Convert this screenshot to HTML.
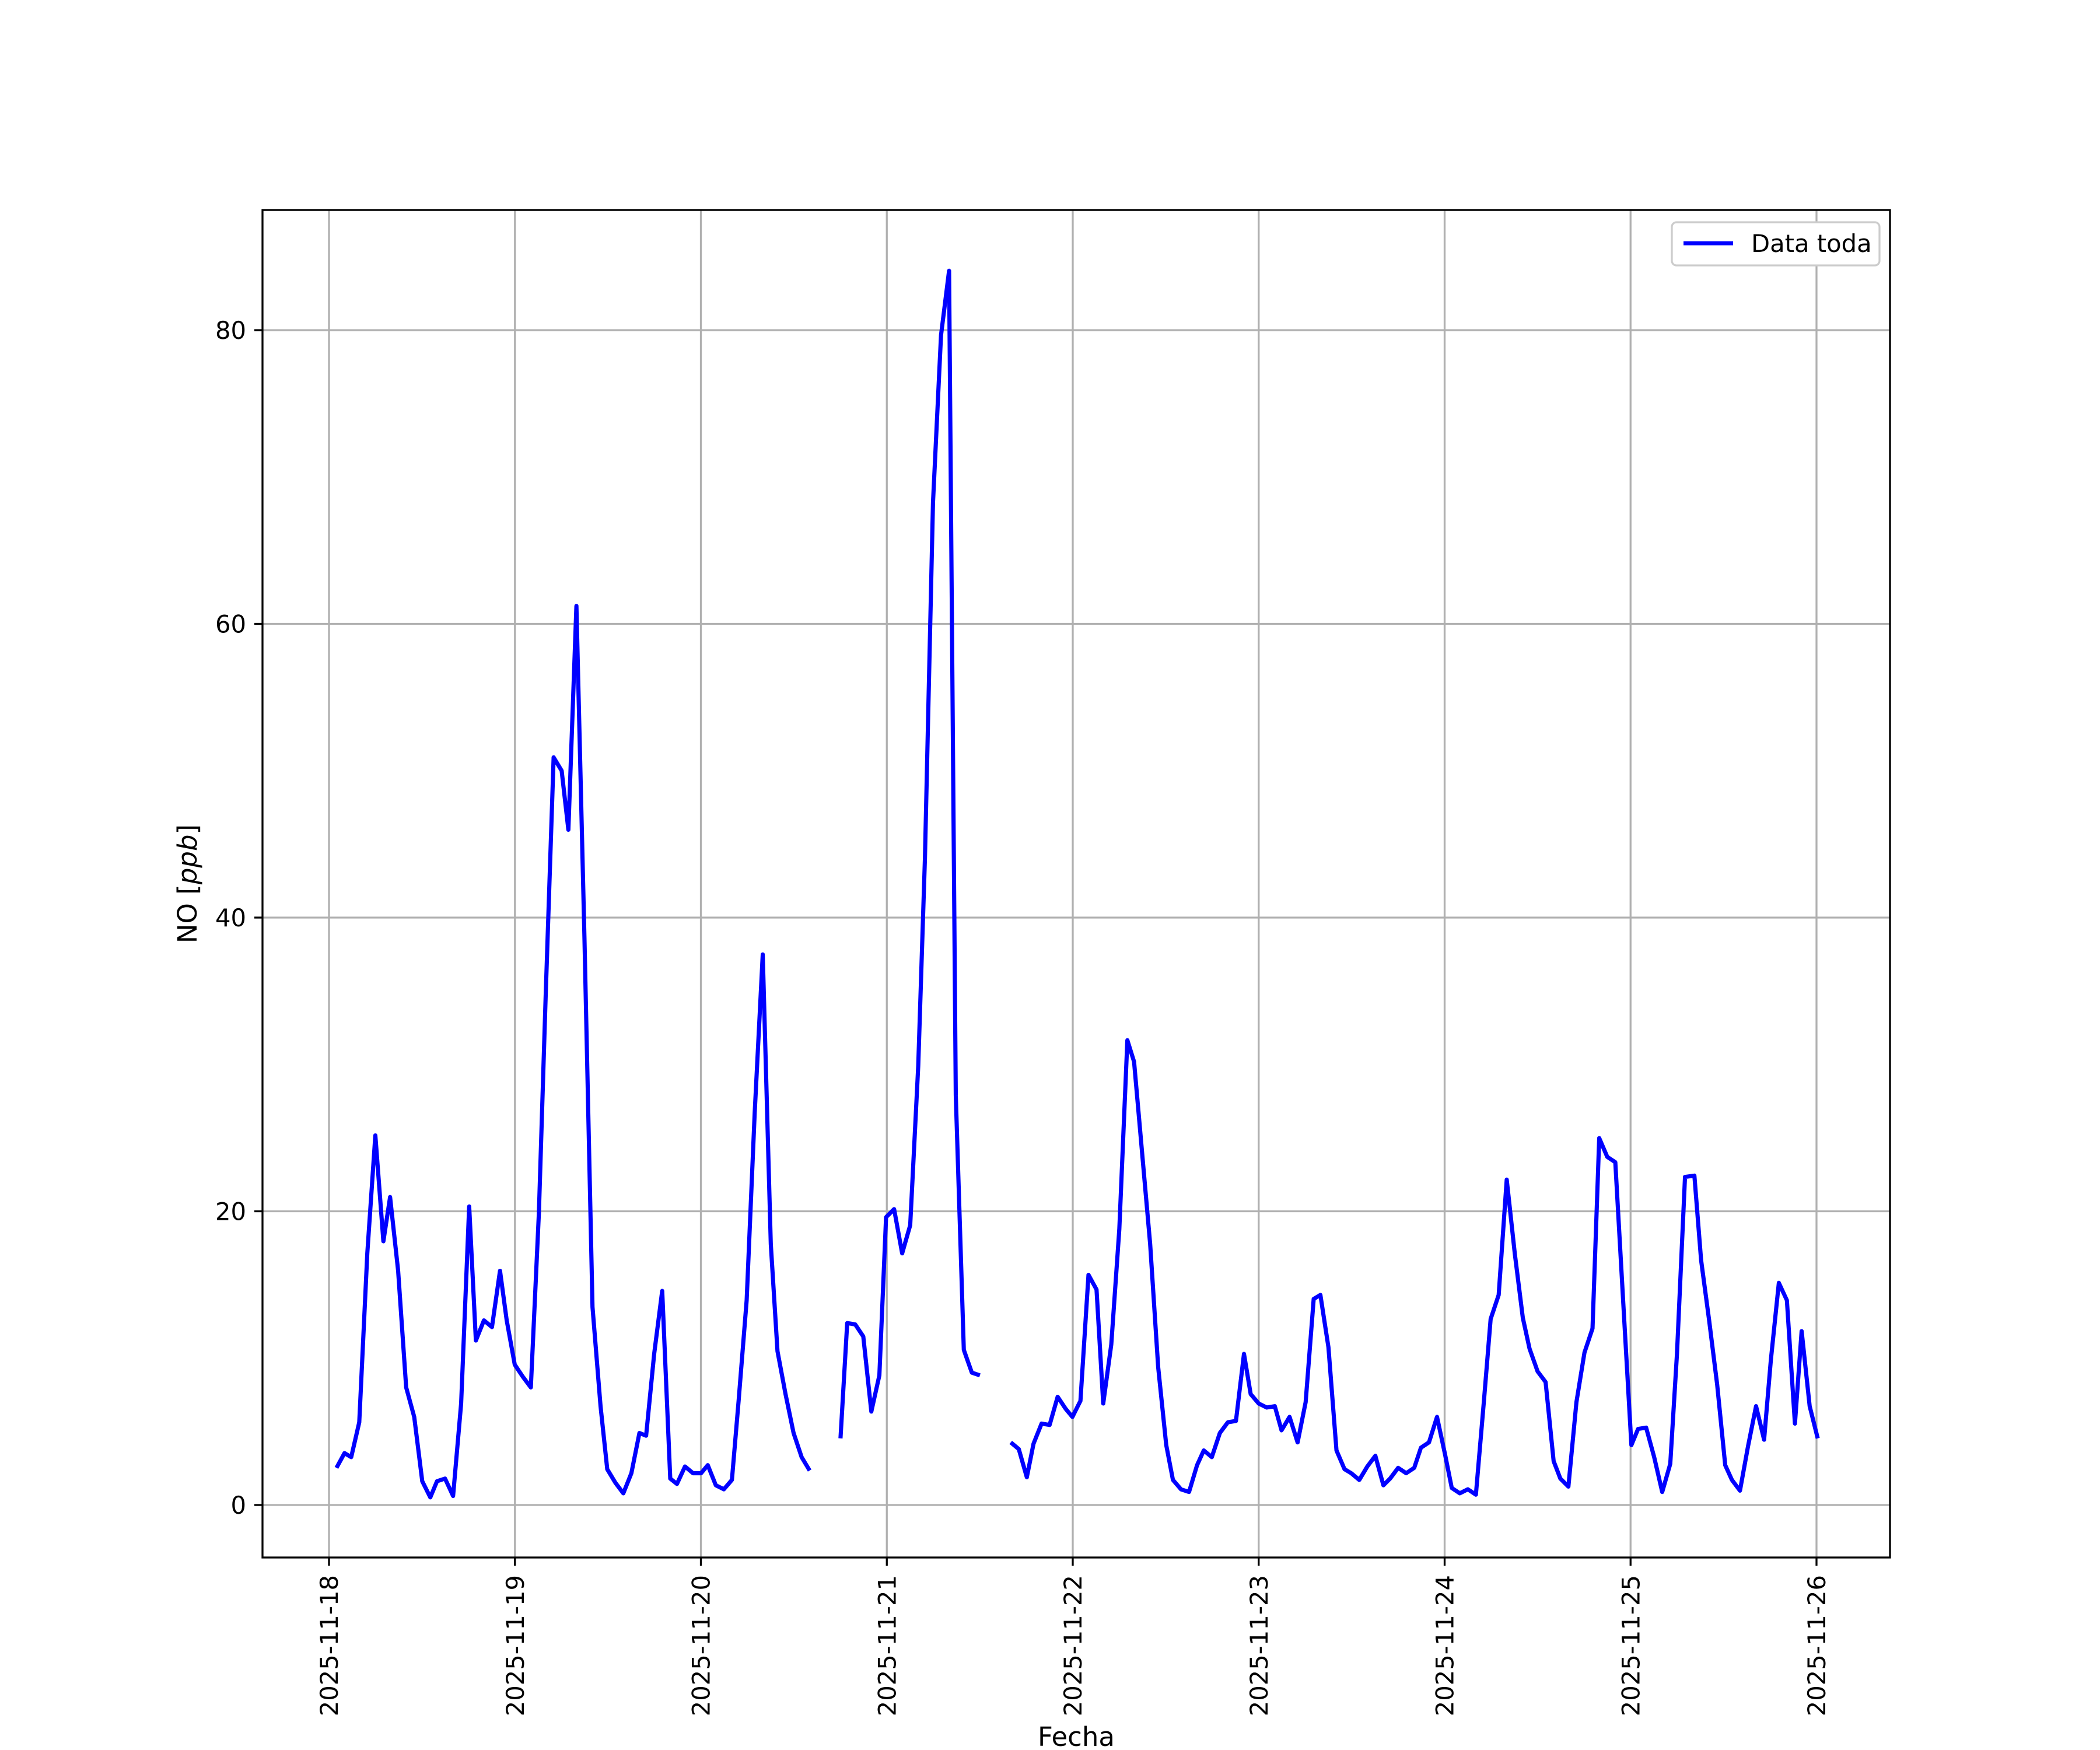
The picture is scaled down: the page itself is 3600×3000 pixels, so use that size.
<!DOCTYPE html>
<html><head><meta charset="utf-8"><style>html,body{margin:0;padding:0;background:#fff}svg{display:block}</style></head>
<body>
<svg width="3600" height="3000" viewBox="0 0 3600 3000" xmlns="http://www.w3.org/2000/svg" font-family="'DejaVu Sans','Liberation Sans',sans-serif">
<rect width="3600" height="3000" fill="#fff"/>
<g stroke="#b0b0b0" stroke-width="3.3">
<line x1="564" y1="360" x2="564" y2="2670"/><line x1="882.75" y1="360" x2="882.75" y2="2670"/><line x1="1201.5" y1="360" x2="1201.5" y2="2670"/><line x1="1520.25" y1="360" x2="1520.25" y2="2670"/><line x1="1839" y1="360" x2="1839" y2="2670"/><line x1="2157.75" y1="360" x2="2157.75" y2="2670"/><line x1="2476.5" y1="360" x2="2476.5" y2="2670"/><line x1="2795.25" y1="360" x2="2795.25" y2="2670"/><line x1="3114" y1="360" x2="3114" y2="2670"/>
<line x1="450" y1="2580" x2="3240" y2="2580"/><line x1="450" y1="2076.5" x2="3240" y2="2076.5"/><line x1="450" y1="1573" x2="3240" y2="1573"/><line x1="450" y1="1069.5" x2="3240" y2="1069.5"/><line x1="450" y1="566" x2="3240" y2="566"/>
</g>
<g transform="scale(2.298)" fill="none" stroke="#0000ff" stroke-width="3.1" stroke-linejoin="round">
<polyline points="251,1095 257,1084 262,1087 268,1061 274,935 280,847 286,926 291,893 297,948 303,1035 309,1057 315,1105 321,1117 326,1105 332,1103 338,1116 344,1047 350,900 355,1000 361,985 367,990 373,948 378,985 384,1018 390,1027 396,1035 402,905 407,745 413,565 419,575 424,619 430,452 436,700 442,975 448,1049 453,1096 459,1106 465,1114 471,1099 477,1069 482,1071 488,1010 494,963 500,1103 505,1107 511,1094 517,1099 523,1099 528,1093 534,1108 540,1111 546,1104 551,1045 557,970 563,830 569,712 575,928 580,1008 586,1040 592,1069 598,1087 604,1097"/>
<polyline points="627,1073 632,987 638,988 644,997 650,1053 656,1026 661,908 667,902 673,935 679,914 685,795 690,640 696,375 702,250 708,202 713,817 719,1007 725,1024 731,1026"/>
<polyline points="754,1076 760,1081 766,1102 771,1077 777,1062 783,1063 789,1042 795,1051 800,1057 806,1045 812,951 818,962 823,1047 829,1003 835,917 841,776 846,792 852,860 858,928 864,1020 870,1078 875,1104 881,1111 887,1113 893,1093 898,1082 904,1087 910,1069 916,1061 922,1060 928,1010 933,1040 939,1047 945,1050 951,1049 956,1067 962,1057 968,1076 974,1046 980,969 985,966 991,1005 997,1082 1003,1096 1008,1099 1014,1104 1020,1094 1026,1086 1032,1108 1037,1103 1043,1095 1049,1099 1055,1095 1060,1080 1066,1076 1072,1057 1078,1085 1083,1110 1089,1114 1095,1111 1101,1115 1107,1045 1112,984 1118,966 1124,880 1130,935 1136,983 1141,1006 1147,1023 1153,1031 1159,1090 1164,1103 1170,1109 1176,1046 1182,1009 1188,991 1193,849 1199,863 1205,867 1211,973 1217,1078 1222,1066 1228,1065 1234,1087 1240,1113 1246,1092 1251,1010 1257,878 1264,877 1269,940 1275,985 1281,1033 1287,1093 1292,1104 1298,1112 1304,1079 1310,1049 1316,1074 1321,1015 1327,957 1333,970 1339,1062 1344,993 1350,1049 1356,1073"/>
</g>
<rect x="450" y="360" width="2790" height="2310" fill="none" stroke="#000" stroke-width="3.3"/>
<g stroke="#000" stroke-width="3.3">
<line x1="436" y1="2580" x2="450" y2="2580"/><line x1="436" y1="2076.5" x2="450" y2="2076.5"/><line x1="436" y1="1573" x2="450" y2="1573"/><line x1="436" y1="1069.5" x2="450" y2="1069.5"/><line x1="436" y1="566" x2="450" y2="566"/>
<line x1="564" y1="2670" x2="564" y2="2684"/><line x1="882.75" y1="2670" x2="882.75" y2="2684"/><line x1="1201.5" y1="2670" x2="1201.5" y2="2684"/><line x1="1520.25" y1="2670" x2="1520.25" y2="2684"/><line x1="1839" y1="2670" x2="1839" y2="2684"/><line x1="2157.75" y1="2670" x2="2157.75" y2="2684"/><line x1="2476.5" y1="2670" x2="2476.5" y2="2684"/><line x1="2795.25" y1="2670" x2="2795.25" y2="2684"/><line x1="3114" y1="2670" x2="3114" y2="2684"/>
</g>
<g font-size="41.7" fill="#000" text-anchor="end">
<text x="422" y="2595">0</text><text x="422" y="2091.5">20</text><text x="422" y="1588">40</text><text x="422" y="1084.5">60</text><text x="422" y="581">80</text>
</g>
<g font-size="41.7" fill="#000" text-anchor="end">
<text transform="translate(579,2700) rotate(-90)">2025-11-18</text>
<text transform="translate(897.75,2700) rotate(-90)">2025-11-19</text>
<text transform="translate(1216.5,2700) rotate(-90)">2025-11-20</text>
<text transform="translate(1535.25,2700) rotate(-90)">2025-11-21</text>
<text transform="translate(1854,2700) rotate(-90)">2025-11-22</text>
<text transform="translate(2172.75,2700) rotate(-90)">2025-11-23</text>
<text transform="translate(2491.5,2700) rotate(-90)">2025-11-24</text>
<text transform="translate(2810.25,2700) rotate(-90)">2025-11-25</text>
<text transform="translate(3129,2700) rotate(-90)">2025-11-26</text>
</g>
<text x="1845" y="2993" font-size="45" text-anchor="middle">Fecha</text>
<text transform="translate(337,1515) rotate(-90)" font-size="45" text-anchor="middle">NO [<tspan font-style="italic">ppb</tspan>]</text>
<rect x="2866" y="381" width="356" height="74" rx="8" fill="#fff" stroke="#ccc" stroke-width="3.3"/>
<line x1="2886" y1="417" x2="2971" y2="417" stroke="#0000ff" stroke-width="7"/>
<text x="3002" y="432" font-size="41.7">Data toda</text>
</svg>
</body></html>
